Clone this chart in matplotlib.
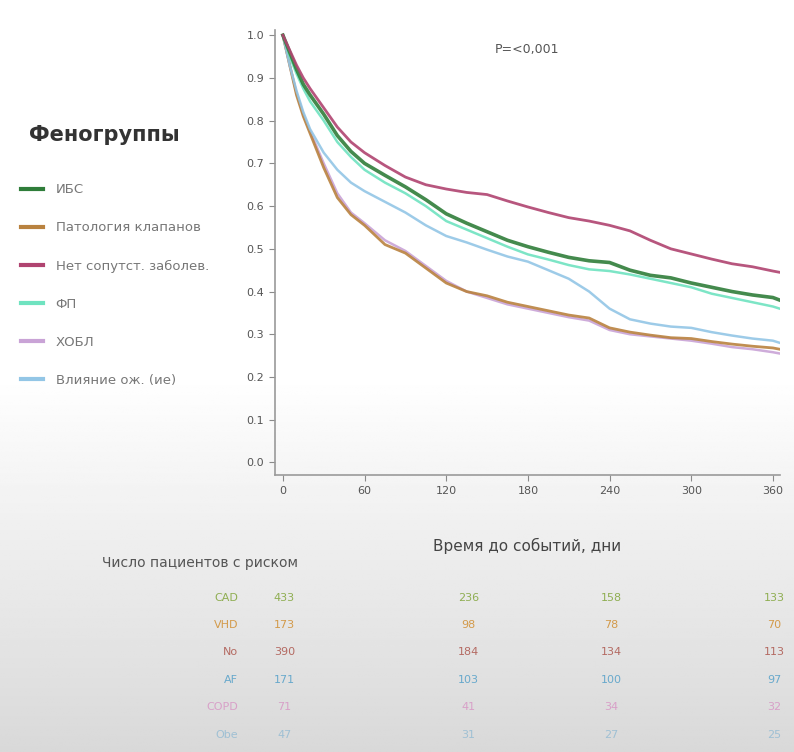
import numpy as np
import matplotlib
matplotlib.use('Agg')
import matplotlib.pyplot as plt
from matplotlib.lines import Line2D

plt.rcParams['font.family'] = ['DejaVu Sans']

# survival curves (days, probability)
days = [0, 5, 10, 15, 20, 30, 40, 50, 60, 75, 90, 105, 120, 135, 150, 165, 180,
        195, 210, 225, 240, 255, 270, 285, 300, 315, 330, 345, 360, 365]

s_ibs = [1.0, 0.96, 0.92, 0.885, 0.86, 0.815, 0.765, 0.728, 0.70, 0.672, 0.645, 0.615,
         0.582, 0.56, 0.54, 0.52, 0.505, 0.492, 0.48, 0.472, 0.468, 0.45, 0.438, 0.432,
         0.42, 0.41, 0.40, 0.392, 0.386, 0.38]
s_valve = [1.0, 0.93, 0.86, 0.81, 0.77, 0.69, 0.62, 0.58, 0.555, 0.51, 0.49, 0.455,
           0.42, 0.40, 0.39, 0.375, 0.365, 0.355, 0.345, 0.338, 0.315, 0.305, 0.298,
           0.292, 0.29, 0.283, 0.277, 0.272, 0.268, 0.265]
s_none = [1.0, 0.965, 0.93, 0.90, 0.875, 0.83, 0.785, 0.75, 0.725, 0.695, 0.668, 0.65,
          0.64, 0.632, 0.627, 0.612, 0.598, 0.585, 0.573, 0.565, 0.555, 0.542, 0.52,
          0.50, 0.488, 0.476, 0.465, 0.458, 0.448, 0.445]
s_af = [1.0, 0.95, 0.91, 0.875, 0.845, 0.80, 0.75, 0.715, 0.685, 0.655, 0.63, 0.60,
        0.565, 0.545, 0.525, 0.505, 0.487, 0.475, 0.462, 0.452, 0.448, 0.44, 0.43,
        0.42, 0.41, 0.395, 0.385, 0.375, 0.365, 0.36]
s_copd = [1.0, 0.93, 0.865, 0.815, 0.775, 0.70, 0.63, 0.585, 0.56, 0.52, 0.495, 0.46,
          0.425, 0.40, 0.385, 0.37, 0.36, 0.35, 0.34, 0.332, 0.31, 0.30, 0.295, 0.29,
          0.285, 0.278, 0.27, 0.265, 0.258, 0.255]
s_obe = [1.0, 0.93, 0.87, 0.82, 0.78, 0.725, 0.685, 0.655, 0.635, 0.61, 0.585, 0.555,
         0.53, 0.515, 0.498, 0.482, 0.47, 0.45, 0.43, 0.40, 0.36, 0.335, 0.325, 0.318,
         0.315, 0.305, 0.297, 0.29, 0.285, 0.28]

groups = ['ИБС', 'Патология клапанов', 'Нет сопутст. заболев.', 'ФП', 'ХОБЛ', 'Влияние ож. (ие)']
curves = [s_ibs, s_valve, s_none, s_af, s_copd, s_obe]
colors = ['#2f7d3a', '#b9823f', '#b04470', '#6fe3c0', '#c9a3d6', '#93c6e6']
widths = [2.6, 2.0, 2.0, 1.8, 1.8, 1.8]
order = [4, 1, 5, 3, 0, 2]

# numbers at risk
risk_rows = ['CAD', 'VHD', 'No', 'AF', 'COPD', 'Obe']
risk_vals = [[433, 236, 158, 133],
             [173, 98, 78, 70],
             [390, 184, 134, 113],
             [171, 103, 100, 97],
             [71, 41, 34, 32],
             [47, 31, 27, 25]]
risk_colors = ['#8fae52', '#d39a4a', '#b46a62', '#68a9cc', '#d8a0c8', '#9fc0d4']

xticks = [0, 60, 120, 180, 240, 300, 360]
yticks = np.round(np.arange(0, 1.01, 0.1), 1)

fig = plt.figure(figsize=(7.94, 7.52), dpi=100)

# slide-like background gradient
bg = fig.add_axes([0, 0, 1, 1], zorder=-5)
g = np.clip((np.linspace(0, 1, 300) - 0.5) / 0.5, 0, 1)
shade = 1.0 - 0.15 * g
bg.imshow(np.repeat(shade[:, None], 10, axis=1), cmap='gray', vmin=0, vmax=1,
          aspect='auto', extent=[0, 1, 0, 1], origin='upper')
bg.axis('off')

ax = fig.add_axes([0.346, 0.368, 0.636, 0.592])
ax.set_facecolor('none')
for i in order:
    ax.plot(days, curves[i], color=colors[i], lw=widths[i], alpha=0.9,
            solid_joinstyle='round')

ax.set_xlim(-6, 365)
ax.set_ylim(-0.03, 1.012)
ax.set_xticks(xticks)
ax.set_yticks(yticks)
ax.set_yticklabels(['%.1f' % v for v in yticks])
for s in ['top', 'right']:
    ax.spines[s].set_visible(False)
for s in ['left', 'bottom']:
    ax.spines[s].set_color('#9a9a9a')
    ax.spines[s].set_linewidth(1.2)
ax.tick_params(colors='#8a8a8a', labelcolor='#555555', labelsize=8, length=4)
ax.set_xlabel('Время до событий, дни', fontsize=11, color='#444444', labelpad=30)
ax.text(0.5, 0.97, 'P=<0,001', transform=ax.transAxes, ha='center', va='top',
        fontsize=9, color='#555555')

# legend
fig.text(0.036, 0.82, 'Феногруппы', ha='left', va='center', fontsize=15,
         fontweight='bold', color='#333333')
handles = [Line2D([0], [0], color=c, lw=3) for c in colors]
leg = fig.legend(handles, groups, loc='upper left', bbox_to_anchor=(0.012, 0.772),
                 frameon=False, fontsize=9.5, labelspacing=1.9, handlelength=1.6,
                 handletextpad=1.0)
for t in leg.get_texts():
    t.set_color('#777777')

# numbers at risk table
fig.text(0.252, 0.251, 'Число пациентов с риском', ha='center', va='center',
         fontsize=10, color='#555555')
col_x = [0.358, 0.59, 0.77, 0.975]
row_y = [0.205, 0.169, 0.133, 0.096, 0.060, 0.023]
for r, name in enumerate(risk_rows):
    fig.text(0.30, row_y[r], name, ha='right', va='center', fontsize=8,
             color=risk_colors[r])
    for c, v in enumerate(risk_vals[r]):
        fig.text(col_x[c], row_y[r], str(v), ha='center', va='center', fontsize=8,
                 color=risk_colors[r])

fig.savefig('out.png', dpi=100)
